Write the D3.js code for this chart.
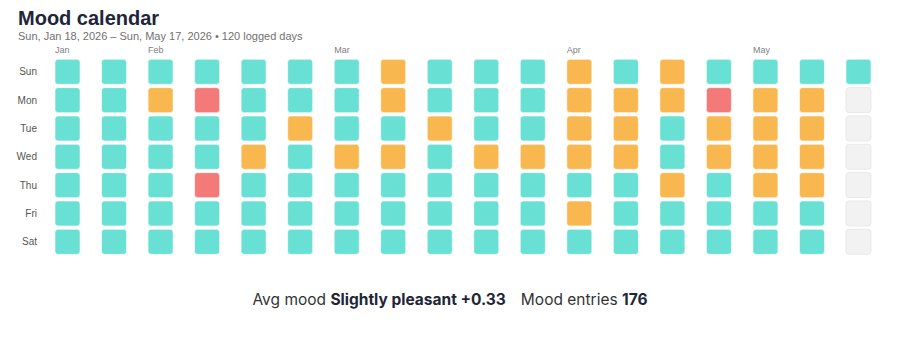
<!DOCTYPE html>
<html>
<head>
<meta charset="utf-8">
<script src="https://cdn.jsdelivr.net/npm/d3@7"></script>
<style>
  body { margin: 0; background: #fff; }
  svg { display: block; font-family: "Liberation Sans", Arial, Helvetica, sans-serif; }
</style>
</head>
<body>
<div id="chart"></div>
<script>
"use strict"

// mood per day, one string per week (Sun..Sat)
// p = pleasant, n = neutral, u = unpleasant, - = no entry
let moodWeeks = [
  "ppppppp", "ppppppp", "pnppppp", "puppupp", "pppnppp", "ppnpppp",
  "pppnppp", "nnpnppp", "ppnpppp", "pppnppp", "pppnppp", "nnnnpnp",
  "pnnnppp", "nnppnpp", "punnppp", "pnnnnpp", "pnnnnpp", "p------"
]
let dayNames = ["Sun", "Mon", "Tue", "Wed", "Thu", "Fri", "Sat"]
let moodKeys = ["p", "n", "u", "-"]
let moodColors = ["#68e0d3", "#f8b84f", "#f47a79", "#f2f2f2"]

let startDate = new Date(2026, 0, 18)
let avgLabel = "Slightly pleasant +0.33"
let entryCount = 176

let width = 900, height = 344

let svg = d3.select("#chart").append("svg")
    .attr("width", width)
    .attr("height", height)

// title + subtitle
svg.append("text")
    .attr("x", 18).attr("y", 25)
    .attr("font-size", 20).attr("font-weight", 700)
    .attr("fill", "#1e2637")
    .text("Mood calendar")

let fmt = d3.timeFormat("%a, %b %-d, %Y")
let lastDate = d3.timeDay.offset(startDate, 119)
svg.append("text")
    .attr("x", 18).attr("y", 40)
    .attr("font-size", 11)
    .attr("fill", "#707070")
    .text(fmt(startDate) + " \u2013 " + fmt(lastDate) + " \u2022 120 logged days")

// flatten weeks into cells
let cells = []
moodWeeks.forEach((w, wi) => {
  w.split("").forEach((m, di) => {
    cells.push({week: wi, day: di, mood: m, date: d3.timeDay.offset(startDate, wi * 7 + di)})
  })
})

let x = d3.scaleBand()
    .domain(d3.range(moodWeeks.length))
    .range([55, 871])
    .paddingInner(0.462)

let y = d3.scaleBand()
    .domain(d3.range(7))
    .range([59.3, 254.3])
    .paddingInner(0.1176)

let color = d3.scaleOrdinal().domain(moodKeys).range(moodColors)

svg.append("g").selectAll("rect")
    .data(cells)
    .join("rect")
    .attr("x", d => x(d.week))
    .attr("y", d => y(d.day))
    .attr("width", x.bandwidth())
    .attr("height", y.bandwidth())
    .attr("rx", 3)
    .attr("fill", d => color(d.mood))
    .attr("stroke", d => d.mood == "-" ? "#e9e9e9" : "rgba(255,255,255,0.6)")
    .attr("stroke-width", 1)

// day labels
svg.append("g").selectAll("text")
    .data(dayNames)
    .join("text")
    .attr("x", 37)
    .attr("y", (d, i) => y(i) + y.bandwidth() / 2)
    .attr("dy", "0.35em")
    .attr("text-anchor", "end")
    .attr("font-size", 10)
    .attr("fill", "#555")
    .text(d => d)

// month labels on the first week that starts in a new month
let monthFmt = d3.timeFormat("%b")
let monthWeeks = d3.range(moodWeeks.length).filter(wi => {
  let sun = d3.timeDay.offset(startDate, wi * 7)
  return wi == 0 || sun.getDate() <= 7
})
svg.append("g").selectAll("text")
    .data(monthWeeks)
    .join("text")
    .attr("x", d => x(d))
    .attr("y", 53)
    .attr("font-size", 9)
    .attr("fill", "#808080")
    .text(d => monthFmt(d3.timeDay.offset(startDate, d * 7)))

// summary line
let summary = svg.append("text")
    .attr("x", width / 2).attr("y", 305)
    .attr("text-anchor", "middle")
    .attr("font-family", "Inter, 'Liberation Sans', sans-serif")
    .attr("font-size", 15.5)
    .attr("fill", "#333")
summary.append("tspan").text("Avg mood ")
summary.append("tspan").attr("font-weight", 700).attr("fill", "#1e2637").text(avgLabel)
summary.append("tspan").attr("dx", 15).text("Mood entries ")
summary.append("tspan").attr("font-weight", 700).attr("fill", "#1e2637").text(entryCount)
</script>
</body>
</html>
